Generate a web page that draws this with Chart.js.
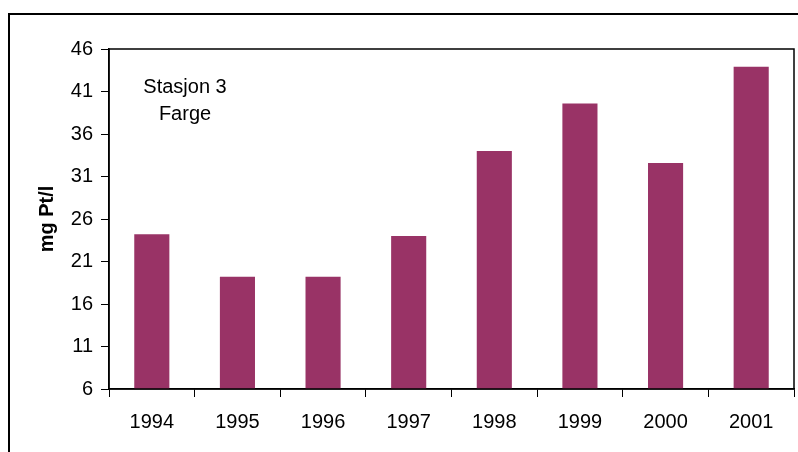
<!DOCTYPE html>
<html>
<head>
<meta charset="utf-8">
<script src="https://cdn.jsdelivr.net/npm/chart.js@4/dist/chart.umd.min.js"></script>
<style>
  html, body { margin: 0; padding: 0; background: #fff; }
  #wrap { width: 798px; height: 452px; position: relative; }
</style>
</head>
<body>
<div id="wrap"><canvas id="c" width="798" height="452"></canvas></div>
<script>
const years = ['1994', '1995', '1996', '1997', '1998', '1999', '2000', '2001'];
const farge = [24.2, 19.2, 19.2, 24.0, 34.0, 39.6, 32.6, 43.9];
const yTicks = [6, 11, 16, 21, 26, 31, 36, 41, 46];
const noteLines = ['Stasjon 3', 'Farge'];
const yTitle = 'mg Pt/l';

const FONT = "'Liberation Sans', Arial, sans-serif";
const FS = 20;

const frame = {
  id: 'frame',
  afterDraw(chart) {
    const ctx = chart.ctx;
    const a = chart.chartArea;
    ctx.save();
    // outer chart border
    ctx.strokeStyle = '#000';
    ctx.lineWidth = 2;
    ctx.strokeRect(9, 14, 800, 460);
    // plot area border
    ctx.lineWidth = 1.5;
    ctx.strokeRect(a.left, a.top, a.right - a.left, a.bottom - a.top);
    // annotation text
    ctx.fillStyle = '#000';
    ctx.font = FS + "px " + FONT;
    ctx.textAlign = 'center';
    ctx.textBaseline = 'middle';
    noteLines.forEach((t, i) => ctx.fillText(t, 185, 87 + i * 27));
    // y axis title
    ctx.font = "bold " + FS + "px " + FONT;
    ctx.translate(47, (a.top + a.bottom) / 2);
    ctx.rotate(-Math.PI / 2);
    ctx.fillText(yTitle, 0, 0);
    ctx.restore();
  }
};

new Chart(document.getElementById('c'), {
  type: 'bar',
  data: {
    labels: years,
    datasets: [{
      data: farge,
      backgroundColor: '#993366',
      borderWidth: 0,
      barPercentage: 0.41,
      categoryPercentage: 1.0
    }]
  },
  options: {
    responsive: false,
    animation: false,
    devicePixelRatio: 1,
    layout: { padding: { top: 49, right: 4, left: 0, bottom: 0 } },
    plugins: { legend: { display: false }, tooltip: { enabled: false } },
    scales: {
      x: {
        grid: { display: true, drawOnChartArea: false, drawTicks: true, tickLength: 8, color: '#000', lineWidth: 1, offset: true },
        border: { display: true, color: '#000', width: 1.5 },
        ticks: { color: '#000', font: { family: FONT, size: FS }, padding: 13, maxRotation: 0 },
        afterFit(s) { s.height = 63; }
      },
      y: {
        min: 6, max: 46,
        afterBuildTicks(s) { s.ticks = yTicks.map(v => ({ value: v })); },
        grid: { display: true, drawOnChartArea: false, drawTicks: true, tickLength: 8, color: '#000', lineWidth: 1 },
        border: { display: true, color: '#000', width: 1.5 },
        ticks: { color: '#000', font: { family: FONT, size: FS }, padding: 8 },
        afterFit(s) { s.width = 109; }
      }
    }
  },
  plugins: [frame]
});
</script>
</body>
</html>
